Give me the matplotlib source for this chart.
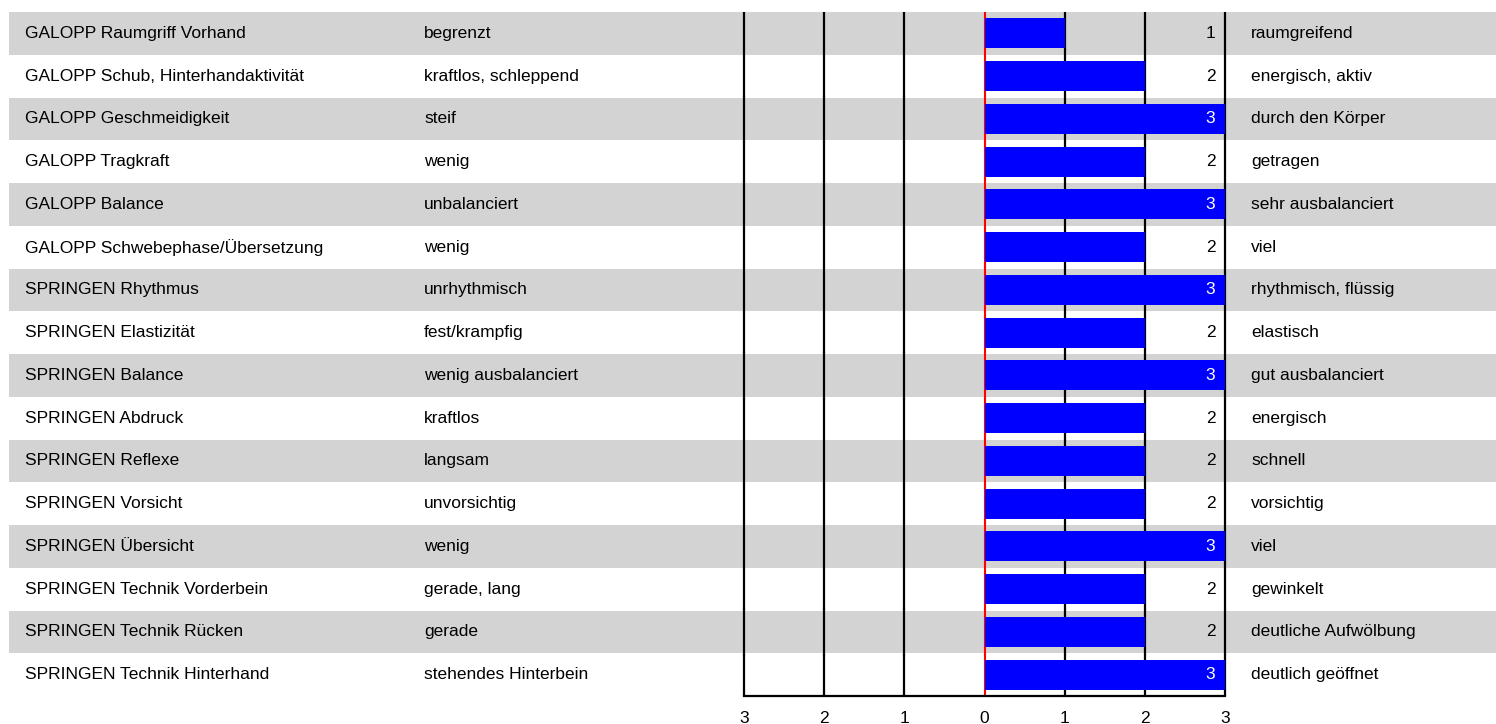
import matplotlib
matplotlib.use("Agg")
import matplotlib.pyplot as plt
from matplotlib.transforms import blended_transform_factory

criteria = [
    "GALOPP Raumgriff Vorhand", "GALOPP Schub, Hinterhandaktivität", "GALOPP Geschmeidigkeit",
    "GALOPP Tragkraft", "GALOPP Balance", "GALOPP Schwebephase/Übersetzung",
    "SPRINGEN Rhythmus", "SPRINGEN Elastizität", "SPRINGEN Balance", "SPRINGEN Abdruck",
    "SPRINGEN Reflexe", "SPRINGEN Vorsicht", "SPRINGEN Übersicht",
    "SPRINGEN Technik Vorderbein", "SPRINGEN Technik Rücken", "SPRINGEN Technik Hinterhand",
]
left_labels = [
    "begrenzt", "kraftlos, schleppend", "steif", "wenig", "unbalanciert", "wenig",
    "unrhythmisch", "fest/krampfig", "wenig ausbalanciert", "kraftlos", "langsam",
    "unvorsichtig", "wenig", "gerade, lang", "gerade", "stehendes Hinterbein",
]
right_labels = [
    "raumgreifend", "energisch, aktiv", "durch den Körper", "getragen", "sehr ausbalanciert",
    "viel", "rhythmisch, flüssig", "elastisch", "gut ausbalanciert", "energisch", "schnell",
    "vorsichtig", "viel", "gewinkelt", "deutliche Aufwölbung", "deutlich geöffnet",
]
values = [1, 2, 3, 2, 3, 2, 3, 2, 3, 2, 2, 2, 3, 2, 2, 3]
tick_values = [-3, -2, -1, 0, 1, 2, 3]
tick_labels = ["3", "2", "1", "0", "1", "2", "3"]

plt.rcParams['font.family'] = ['Liberation Sans', 'DejaVu Sans']
FS = 12.5

W, H = 1496, 724
fig = plt.figure(figsize=(W / 100, H / 100), dpi=100)
left_px, right_px = 744, 1225
top_px, bot_px = 12, 696
ax = fig.add_axes([left_px / W, 1 - bot_px / H, (right_px - left_px) / W, (bot_px - top_px) / H])
n = len(criteria)
ax.set_xlim(-3, 3)
ax.set_ylim(n, 0)

trans = blended_transform_factory(fig.transFigure, ax.transData)

# background bands
for i in range(n):
    if i % 2 == 0:
        r = plt.Rectangle((9 / W, i), 1 - 9 / W, 1, transform=trans, facecolor="#d3d3d3",
                          edgecolor="none", zorder=0, clip_on=False)
        ax.add_artist(r)

# grid lines
for v in tick_values:
    if v == 0:
        ax.vlines(v, 0, n, color="red", lw=1.5, zorder=2, clip_on=False)
    else:
        ax.vlines(v, 0, n, color="black", lw=1.6, zorder=2, clip_on=False)

ypos = [i + 0.5 for i in range(n)]
ax.barh(ypos, values, height=0.7, left=0, color="#0000ff", zorder=3)

for i in range(n):
    y = ypos[i]
    ax.text(25 / W, y, criteria[i], transform=trans, ha="left", va="center", fontsize=FS, zorder=5)
    ax.text(424 / W, y, left_labels[i], transform=trans, ha="left", va="center", fontsize=FS, zorder=5)
    ax.text(1251 / W, y, right_labels[i], transform=trans, ha="left", va="center", fontsize=FS, zorder=5)
    col = "white" if values[i] >= 3 else "black"
    ax.text(2.88, y, str(values[i]), ha="right", va="center", fontsize=FS, color=col, zorder=5)

for s in ["top", "left", "right"]:
    ax.spines[s].set_visible(False)
ax.spines["bottom"].set_linewidth(1.6)
ax.spines["bottom"].set_zorder(4)
ax.set_yticks([])
ax.set_xticks(tick_values)
ax.set_xticklabels(tick_labels, fontsize=FS)
ax.tick_params(axis="x", length=0, pad=11)
ax.patch.set_visible(False)

fig.savefig("out.png", dpi=100)
